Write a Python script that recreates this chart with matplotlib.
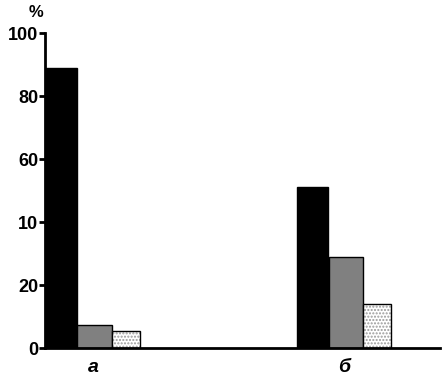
import numpy as np
import matplotlib
matplotlib.use('Agg')
import matplotlib.pyplot as plt

plt.rcParams['font.family'] = ['Liberation Sans', 'DejaVu Sans']

# данные
groups = ['а', 'б']
black_vals = [89, 51]
gray_vals = [7.3, 28.8]
dotted_vals = [5.5, 13.9]
ytick_vals = [0, 20, 40, 60, 80, 100]
ytick_labels = ['0', '20', '10', '60', '80', '100']

x = np.arange(len(groups))

fig = plt.figure(figsize=(4.48, 3.82), dpi=100)
ax = fig.add_axes([0.1004, 0.089, 0.8816, 0.8246])

ax.bar(x - 0.126, black_vals, width=0.124, color='black', edgecolor='black', lw=1)
ax.bar(x + 0.006, gray_vals, width=0.138, color='#808080', edgecolor='black', lw=1)
# точечная заливка: сначала штриховка серым, потом чёрный контур
ax.bar(x + 0.131, dotted_vals, width=0.112, color='white', edgecolor='#9a9a9a',
       hatch='.....', lw=0)
ax.bar(x + 0.131, dotted_vals, width=0.112, fill=False, edgecolor='black', lw=1)

ax.set_xlim(-0.191, 1.38)
ax.set_ylim(0, 100)

for s in ['top', 'right']:
    ax.spines[s].set_visible(False)
ax.spines['left'].set_linewidth(2)
ax.spines['bottom'].set_linewidth(2)

ax.set_yticks(ytick_vals)
ax.set_yticklabels(ytick_labels, fontsize=13, fontweight='bold')
ax.tick_params(axis='y', length=4, width=2, pad=1)

ax.set_xticks(x)
ax.set_xticklabels(groups, fontsize=14, fontweight='bold', style='italic')
ax.tick_params(axis='x', length=0, pad=8)

ax.text(-0.023, 1.065, '%', transform=ax.transAxes, ha='center', va='center',
        fontsize=12, fontweight='bold')

plt.savefig('out.png', dpi=100)
